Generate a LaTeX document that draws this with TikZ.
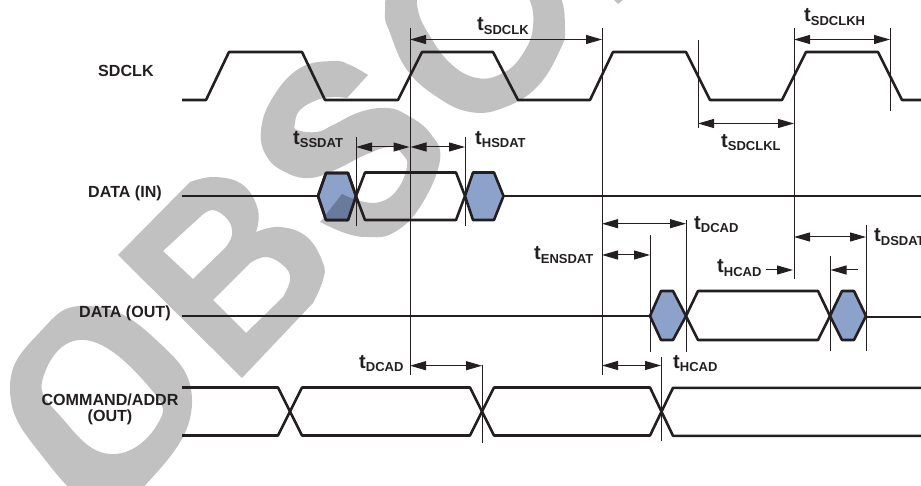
\documentclass[tikz,border=0pt]{standalone}
\usepackage{fontspec}
\setmainfont{Liberation Sans}
\usetikzlibrary{arrows.meta}
\definecolor{ink}{HTML}{231F20}
\definecolor{wmgrey}{HTML}{C1C1C1}
\definecolor{hexblue}{HTML}{8CA2CB}
\definecolor{hexdark}{HTML}{6A7A9C}
\newcommand{\tlab}[1]{{\fontsize{20}{20}\selectfont t}\raisebox{-3.2pt}{\fontsize{13}{13}\selectfont #1}}
\newcommand{\sshape}{(368,75) -- plot[smooth,tension=.7] coordinates {(368,75)(350,65)(333,61)(300,68)(273,97)(261,130)(267,157)(287,173)(310,178)(335,170)(365,155)(390,147)(403,155)(407,167)(397,190)(380,202)(360,201)(342,194)} -- plot[smooth,tension=.7] coordinates {(320,222)(345,233)(367,237)(393,233)(420,207)(440,160)(430,133)(407,115)(387,108)(360,112)(333,125)(317,132)(297,130)(295,123)(300,110)(317,100)(333,97)(347,98)} -- cycle}
\tikzset{
  wave/.style={draw=ink,line width=2.6pt,line join=round,line cap=butt},
  hexcell/.style={wave,fill=hexblue},
  guide/.style={draw=ink,line width=1pt},
  dimboth/.style={draw=ink,line width=1pt,{Triangle[length=16pt,width=9pt]}-{Triangle[length=16pt,width=9pt]}},
  dimend/.style={draw=ink,line width=1pt,-{Triangle[length=16pt,width=9pt]}},
  sig/.style={font=\bfseries\fontsize{16.1}{16}\selectfont,text=ink,inner sep=0pt},
  tim/.style={font=\bfseries,text=ink,inner sep=0pt,anchor=base west},
  wm/.style={fill=wmgrey,draw=none,even odd rule}
}
\begin{document}
\begin{tikzpicture}[x=1pt,y=-1pt]
\useasboundingbox (0,0) rectangle (921,486);
\begin{scope}
\clip (0,0) rectangle (921,486);
% watermark
\fill[wm] plot[smooth cycle,tension=.8] coordinates {(10,390)(40,332)(88,306)(153,337)(192,403)(150,480)(100,505)(43,457)}
  plot[smooth cycle,tension=.8] coordinates {(43,378)(85,340)(150,388)(157,425)(110,454)(62,418)};
\fill[wm] (118,255) -- (186,186) -- plot[smooth,tension=.7] coordinates {(190,182)(215,177)(243,185)(258,210)(256,232)} -- plot[smooth,tension=.7] coordinates {(256,232)(280,227)(307,237)(323,263)(323,280)(313,303)} -- (242,378) -- cycle
  (163,251) -- (200,217) -- plot[smooth,tension=.7] coordinates {(200,217)(213,210)(228,220)(232,235)(225,248)} -- (193,279) -- cycle
  (213,300) -- (250,263) -- plot[smooth,tension=.7] coordinates {(250,263)(267,257)(285,267)(290,280)(283,297)} -- (246,333) -- cycle;
\fill[wm] \sshape;
\fill[wm] plot[smooth cycle,tension=.7] coordinates {(385,13)(390,33)(407,70)(437,97)(470,112)(503,108)(537,87)(560,50)(565,27)(557,-10)(520,-50)(430,-50)(392,-15)}
  plot[smooth cycle,tension=.7] coordinates {(418,10)(428,33)(450,63)(477,78)(503,73)(522,55)(533,27)(527,-5)(500,-30)(440,-30)(420,-8)};
\fill[wm] (613,-1) -- (618,4) -- (624,-1) -- cycle;
% SDCLK
\draw[wave] (182,100) -- (206,100) -- (229,52) -- (302,52) -- (325,100) -- (398,100) -- (422,52) -- (493,52) -- (518,100) -- (590,100) -- (613,52) -- (686,52) -- (710,100) -- (782,100) -- (806,52) -- (878,52) -- (902,100) -- (925,100);
% DATA (IN)
\draw[wave] (182,196) -- (318,196);
\draw[hexcell] (318,196) -- (326,173) -- (348,173) -- (356,196) -- (348,220) -- (326,220) -- cycle;
\begin{scope}
\clip (318,196) -- (326,173) -- (348,173) -- (356,196) -- (348,220) -- (326,220) -- cycle;
\fill[hexdark] \sshape;
\end{scope}
\draw[wave] (318,196) -- (326,173) -- (348,173) -- (356,196) -- (348,220) -- (326,220) -- cycle;
\draw[wave] (356,196) -- (365,172.5) -- (456,172.5) -- (465,196) -- (456,220) -- (365,220) -- cycle;
\draw[hexcell] (465,196) -- (473,172.5) -- (494,172.5) -- (503.5,196) -- (494,220) -- (473,220) -- cycle;
\draw[wave] (503.5,196) -- (925,196);
% DATA (OUT)
\draw[wave] (182,316) -- (650,316);
\draw[hexcell] (650,316) -- (661,291) -- (673,291) -- (686,316) -- (673,340) -- (661,340) -- cycle;
\draw[wave] (686,316) -- (698,291) -- (818,291) -- (830,316) -- (818,340) -- (698,340) -- cycle;
\draw[hexcell] (830,316) -- (842,291) -- (854,291) -- (866,316) -- (854,340) -- (842,340) -- cycle;
\draw[wave] (866,317) -- (925,317);
% COMMAND/ADDR
\draw[wave] (182,387.5) -- (278,387.5) -- (302,435.5) -- (470,435.5) -- (494,387.5) -- (650,387.5) -- (673,435.8) -- (925,435.8);
\draw[wave] (182,435.5) -- (278,435.5) -- (302,387.5) -- (470,387.5) -- (494,435.5) -- (650,435.5) -- (673,387.8) -- (925,387.8);
% guides
\draw[guide] (356,137) -- (356,226);
\draw[guide] (410,28) -- (410,375);
\draw[guide] (465,137) -- (465,226);
\draw[guide] (602,28) -- (602,375);
\draw[guide] (698,40) -- (698,128);
\draw[guide] (794,28) -- (794,279);
\draw[guide] (890,28) -- (890,111);
\draw[guide] (650,235) -- (650,352);
\draw[guide] (686,220) -- (686,352);
\draw[guide] (830,256) -- (830,351);
\draw[guide] (866,225) -- (866,351);
\draw[guide] (661,357) -- (661,441);
\draw[guide] (482,365) -- (482,443);
% dimension arrows
\draw[dimboth] (410,39.5) -- (602,39.5);
\draw[dimboth] (794,39.5) -- (890,39.5);
\draw[dimboth] (698,123.5) -- (794,123.5);
\draw[dimboth] (356,147) -- (409.5,147);
\draw[dimboth] (410.5,147) -- (465,147);
\draw[dimboth] (602,223.7) -- (686,223.7);
\draw[dimboth] (602,255) -- (650,255);
\draw[dimboth] (794,237) -- (866,237);
\draw[dimend] (766,270) -- (793,270);
\draw[dimend] (858,270) -- (830.5,270);
\draw[dimboth] (602,365.5) -- (661,365.5);
\draw[dimboth] (410,365.7) -- (482,365.7);
% signal labels
\node[sig,anchor=base west] (sdclk) at (98,77) {SDCLK};
\node[sig,anchor=base west] (datain) at (88,197.5) {DATA (IN)};
\node[sig,anchor=base west] (dataout) at (79,317) {DATA (OUT)};
\node[sig,align=center,anchor=center] (cmd) at (110,409.5) {COMMAND/ADDR\\(OUT)};
% timing labels
\node[tim] (t1) at (477,31) {\tlab{SDCLK}};
\node[tim] (t2) at (804,22) {\tlab{SDCLKH}};
\node[tim] (t3) at (721,147.5) {\tlab{SDCLKL}};
\node[tim] (t4) at (293,144.5) {\tlab{SSDAT}};
\node[tim] (t5) at (475,144.5) {\tlab{HSDAT}};
\node[tim] (t6) at (694,229.5) {\tlab{DCAD}};
\node[tim] (t7) at (534,260) {\tlab{ENSDAT}};
\node[tim] (t8) at (717,273) {\tlab{HCAD}};
\node[tim] (t9) at (874,242) {\tlab{DSDAT}};
\node[tim] (t10) at (673,368.5) {\tlab{HCAD}};
\node[tim] (t11) at (359,368.5) {\tlab{DCAD}};
\end{scope}
\end{tikzpicture}
\end{document}
